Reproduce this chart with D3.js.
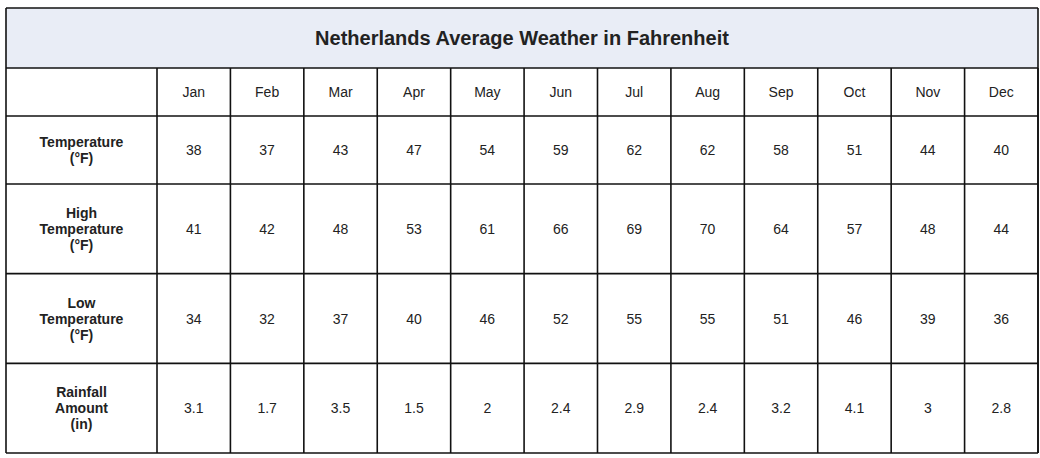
<!DOCTYPE html>
<html><head><meta charset="utf-8">
<script src="https://cdn.jsdelivr.net/npm/d3@7"></script>
<style>body{margin:0;background:#fff}text{font-family:"Liberation Sans",Arial,sans-serif;fill:#222}</style>
</head><body><div id="chart"></div>
<script>
const title = "Netherlands Average Weather in Fahrenheit";
const months = ["Jan","Feb","Mar","Apr","May","Jun","Jul","Aug","Sep","Oct","Nov","Dec"];
const rowLabels = [["Temperature","(°F)"],["High","Temperature","(°F)"],["Low","Temperature","(°F)"],["Rainfall","Amount","(in)"]];
const temperature = [38,37,43,47,54,59,62,62,58,51,44,40];
const highTemp = [41,42,48,53,61,66,69,70,64,57,48,44];
const lowTemp = [34,32,37,40,46,52,55,55,51,46,39,36];
const rainfall = ["3.1","1.7","3.5","1.5","2","2.4","2.9","2.4","3.2","4.1","3","2.8"];
const rows = [temperature, highTemp, lowTemp, rainfall];

const W = 1040, H = 458, L = 6, R = 1038, T = 8, B = 453;
const svg = d3.select('#chart').append('svg').attr('width', W).attr('height', H);

const x = d3.scaleBand().domain(months).range([157, R]);
// first body row is shorter than the others
const rowTop = i => i === 0 ? 116 : 184 + (i - 1) * ((B - 184) / 3);
const rowBot = i => i === 0 ? 184 : 184 + i * ((B - 184) / 3);

svg.append('rect').attr('x', L).attr('y', T).attr('width', R - L).attr('height', 60).attr('fill', '#e9edf6');
svg.append('text').attr('x', (L + R) / 2).attr('y', 45).attr('text-anchor', 'middle')
  .attr('font-size', 20).attr('font-weight', 'bold').text(title);

const g = svg.append('g').attr('stroke', '#111').attr('stroke-width', 1.6);
[T, 68, 116].concat(rows.map((r, i) => rowBot(i))).forEach(v =>
  g.append('line').attr('x1', L).attr('x2', R).attr('y1', v).attr('y2', v));
g.append('line').attr('x1', L).attr('x2', L).attr('y1', T).attr('y2', B);
g.append('line').attr('x1', R).attr('x2', R).attr('y1', T).attr('y2', B);
g.append('line').attr('x1', 157).attr('x2', 157).attr('y1', 68).attr('y2', B);
months.forEach(m => g.append('line').attr('x1', x(m) + x.bandwidth()).attr('x2', x(m) + x.bandwidth()).attr('y1', 68).attr('y2', B));

svg.selectAll('.mh').data(months).join('text')
  .attr('x', d => x(d) + x.bandwidth() / 2).attr('y', 97).attr('text-anchor', 'middle')
  .attr('font-size', 14).text(d => d);

rows.forEach((vals, i) => {
  const cy = (rowTop(i) + rowBot(i)) / 2;
  svg.selectAll('.v' + i).data(vals).join('text')
    .attr('x', (d, j) => x(months[j]) + x.bandwidth() / 2).attr('y', cy + 5)
    .attr('text-anchor', 'middle').attr('font-size', 14).text(d => d);
  const lines = rowLabels[i];
  lines.forEach((t, k) => svg.append('text').attr('x', (L + 157) / 2)
    .attr('y', cy + 5 + (k - (lines.length - 1) / 2) * 16).attr('text-anchor', 'middle')
    .attr('font-size', 14).attr('font-weight', 'bold').text(t));
});
</script></body></html>
